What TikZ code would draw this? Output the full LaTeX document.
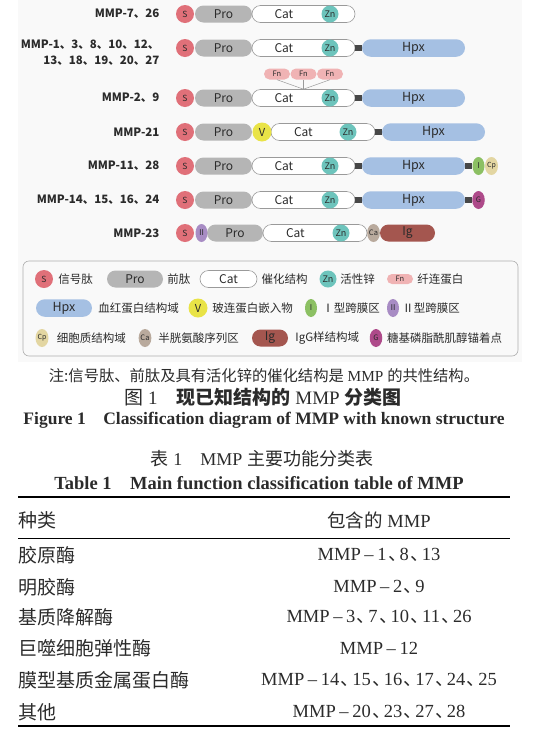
\documentclass[tikz,border=0pt]{standalone}
\usepackage{fontspec}
\setmainfont{Liberation Serif}
\newfontfamily\cjk{Noto Sans CJK SC}
\usepackage{tikz}
\usetikzlibrary{positioning, shapes.geometric, shapes.misc}
\definecolor{mmpBg}{HTML}{F9F9F9}
\definecolor{mmpSig}{HTML}{E07079}
\definecolor{mmpPro}{HTML}{B5B5B5}
\definecolor{mmpLine}{HTML}{9A9A9A}
\definecolor{mmpZn}{HTML}{6DC4BC}
\definecolor{mmpHpx}{HTML}{A5C0E3}
\definecolor{mmpFn}{HTML}{F0B3B4}
\definecolor{mmpV}{HTML}{E9E347}
\definecolor{mmpTmI}{HTML}{8CC063}
\definecolor{mmpCp}{HTML}{E3D6A2}
\definecolor{mmpGpi}{HTML}{AE4A8A}
\definecolor{mmpTmII}{HTML}{A88CC4}
\definecolor{mmpCa}{HTML}{B9AA9D}
\definecolor{mmpIg}{HTML}{A4564F}
\definecolor{mmpLink}{HTML}{474747}
\definecolor{mmpInk}{HTML}{2B2B2B}
\newcommand{\fs}[1]{\fontsize{#1}{#1}\selectfont}
\newcommand{\dun}{\kern1.5pt{\cjk 、}\kern-7pt}

\begin{document}
\begin{tikzpicture}[x=1pt, y=-1pt, font=\cjk, text=mmpInk,
  pill/.style={rounded rectangle, inner sep=0pt, minimum height=17pt, font=\cjk\fs{12}},
  dot/.style={circle, inner sep=0pt, minimum size=18pt, font=\cjk\fs{8.5}},
  egg/.style={ellipse, inner sep=0pt, minimum width=12.5pt, minimum height=18pt, font=\cjk\fs{7.5}},
  catbox/.style={pill, draw=mmpLine, fill=white, line width=0.6pt, text width=58pt, align=left},
  znbox/.style={dot, fill=mmpZn, minimum size=17pt, font=\cjk\fs{9}},
  hpxbox/.style={pill, fill=mmpHpx, minimum height=17.5pt, font=\cjk\fs{12.5}},
  fnbox/.style={pill, fill=mmpFn, minimum width=26pt, minimum height=11pt, font=\cjk\fs{7.5}},
  link/.style={mmpLink, line width=6pt},
  fnline/.style={mmpLine, line width=0.5pt},
  rowlab/.style={anchor=east, align=right, font=\cjk\bfseries\fontsize{11.5}{16}\selectfont},
  legtxt/.style={inner sep=0pt, font=\cjk\fs{11.5}},
  captxt/.style={inner sep=0pt, font=\fs{15.3}},
  capen/.style={inner sep=0pt, font=\bfseries\fs{17.5}},
  tabzh/.style={anchor=west, inner sep=0pt, font=\cjk\fs{19}},
  tabmmp/.style={inner sep=0pt, font=\fs{18.5}}]
\useasboundingbox (0,0) rectangle (535,737);
\fill[mmpBg] (18,0) rectangle (522,362);

% ---- rows with S / Pro / Cat / Zn
\foreach \r/\y in {1/14, 2/48, 3/98, 5/166, 6/200} {
  \node[pill, fill=mmpPro, minimum width=57pt] (pro\r) at (223.5,\y) {Pro};
  \node[dot, fill=mmpSig] (s\r) at (185,\y) {S};
  \node[catbox, minimum width=103pt] (cat\r) at (303.5,\y) {Cat};
  \node[znbox] (zn\r) at (330,\y) {Zn};
}
\foreach \r/\y in {2/48, 3/98, 5/166, 6/200} {
  \node[hpxbox, minimum width=103pt] (hpx\r) at (413.5,\y) {Hpx};
  \draw[link] (cat\r.east) -- (hpx\r.west);
}
\node[rowlab] (lab1) at (163,14) {MMP-7、26};
\node[rowlab] (lab2) at (163,53) {MMP-1、3、8、10、12、\\13、18、19、20、27};
\node[rowlab] (lab3) at (163,98) {MMP-2、9};
\node[rowlab] (lab4) at (163,132) {MMP-21};
\node[rowlab] (lab5) at (163,166) {MMP-11、28};
\node[rowlab] (lab6) at (163,200) {MMP-14、15、16、24};
\node[rowlab] (lab7) at (163,233) {MMP-23};

% ---- fibronectin repeats
\foreach \i/\x in {1/277, 2/303.5, 3/330} {
  \node[fnbox] (fn\i) at (\x,74) {Fn};
  \draw[fnline] (fn\i.south) -- (cat3.north);
}

% ---- MMP-21
\node[pill, fill=mmpPro, minimum width=57pt] (pro4) at (223.5,132) {Pro};
\node[dot, fill=mmpSig] (s4) at (185,132) {S};
\node[catbox, minimum width=104pt] (cat4) at (323,132) {Cat};
\node[dot, fill=mmpV, minimum size=19pt, font=\cjk\fs{11}] (v4) at (262,132) {V};
\node[znbox] (zn4) at (348,132) {Zn};
\node[hpxbox, minimum width=103pt] (hpx4) at (433.5,132) {Hpx};
\draw[link] (cat4.east) -- (hpx4.west);

% ---- C-terminal ends
\node[egg, fill=mmpTmI, minimum width=12pt, font=\cjk\fs{8}] (tm5) at (478.5,166) {I};
\node[egg, fill=mmpCp, minimum width=13pt, font=\cjk\fs{7}] (cp5) at (491.5,166) {Cp};
\draw[link] (hpx5.east) -- (tm5.west);
\node[egg, fill=mmpGpi] (gpi6) at (478.5,200) {G};
\draw[link] (hpx6.east) -- (gpi6.west);

% ---- MMP-23
\node[pill, fill=mmpPro, minimum width=56pt] (pro7) at (235,233) {Pro};
\node[egg, fill=mmpTmII, minimum width=12pt, font=\cjk\fs{8}] (tm7) at (201.5,233) {Ⅱ};
\node[dot, fill=mmpSig] (s7) at (185,233) {S};
\node[catbox, minimum width=104pt] (cat7) at (315,233) {Cat};
\node[znbox] (zn7) at (341,233) {Zn};
\node[egg, fill=mmpCa] (ca7) at (373.5,233) {Ca};
\node[pill, fill=mmpIg, minimum width=55pt] (ig7) at (407.5,233) {Ig};

% ---- legend
\draw[mmpLine!80, line width=0.6pt, rounded corners=6pt] (23,261) rectangle (518,356);
\node[dot, fill=mmpSig] (lgS) at (44,279) {S};
\node[legtxt, right=5pt of lgS] (lgStxt) {信号肽};
\node[pill, fill=mmpPro, minimum width=56pt] (lgPro) at (135,279) {Pro};
\node[legtxt, right=4pt of lgPro] (lgProtxt) {前肽};
\node[pill, draw=mmpLine, fill=white, line width=0.6pt, minimum width=57pt] (lgCat) at (228.5,279) {Cat};
\node[legtxt, right=4pt of lgCat] (lgCattxt) {催化结构};
\node[znbox] (lgZn) at (328,279) {Zn};
\node[legtxt, right=3.5pt of lgZn] (lgZntxt) {活性锌};
\node[fnbox, minimum height=10pt] (lgFn) at (400,279) {Fn};
\node[legtxt, right=4pt of lgFn] (lgFntxt) {纤连蛋白};

\node[hpxbox, minimum width=56pt] (lgHpx) at (64,308) {Hpx};
\node[legtxt, right=6pt of lgHpx] (lgHpxtxt) {血红蛋白结构域};
\node[dot, fill=mmpV, minimum size=19pt, font=\cjk\fs{11}] (lgV) at (198,308) {V};
\node[legtxt, right=4.5pt of lgV] (lgVtxt) {玻连蛋白嵌入物};
\node[egg, fill=mmpTmI, minimum width=12pt, font=\cjk\fs{8}] (lgTmI) at (311,308) {I};
\node[legtxt, right=5pt of lgTmI] (lgTmItxt) {Ⅰ型跨膜区};
\node[egg, fill=mmpTmII, minimum width=12pt, font=\cjk\fs{8}] (lgTmII) at (393,308) {Ⅱ};
\node[legtxt, right=3pt of lgTmII] (lgTmIItxt) {Ⅱ型跨膜区};

\node[egg, fill=mmpCp, minimum width=13pt, font=\cjk\fs{7}] (lgCp) at (42,338) {Cp};
\node[legtxt, right=8pt of lgCp] (lgCptxt) {细胞质结构域};
\node[egg, fill=mmpCa] (lgCa) at (145,338) {Ca};
\node[legtxt, right=6.5pt of lgCa] (lgCatxt) {半胱氨酸序列区};
\node[pill, fill=mmpIg, minimum width=36pt] (lgIg) at (270,338) {Ig};
\node[legtxt, right=7pt of lgIg] (lgIgtxt) {IgG样结构域};
\node[egg, fill=mmpGpi] (lgG) at (376,338) {G};
\node[legtxt, right=4.5pt of lgG] (lgGtxt) {糖基磷脂酰肌醇锚着点};

% ---- captions
\node[captxt] (note) at (264,376) {{\cjk 注:信号肽、前肽及具有活化锌的催化结构是} MMP {\cjk 的共性结构。}};
\node[captxt, font=\fs{19}] (figzh) at (263,397) {{\cjk 图} 1\quad{\cjk\bfseries 现已知结构的} MMP {\cjk\bfseries 分类图}};
\node[capen] (figen) at (264,420) {Figure 1\quad Classification diagram of MMP with known structure};
\node[captxt, font=\fs{18}] (tabzh) at (262,459) {{\cjk 表} 1\quad MMP {\cjk 主要功能分类表}};
\node[capen, font=\bfseries\fs{18.5}] (taben) at (259,483) {Table 1\quad Main function classification table of MMP};

% ---- table
\draw[line width=1.6pt] (18,497) -- (510,497);
\node[tabzh] (hdkind) at (18,520) {种类};
\node[tabmmp] (hdmmp) at (379,520) {{\cjk 包含的} MMP};
\draw[line width=0.7pt] (18,538) -- (510,538);
\foreach \y/\kind/\members [count=\n] in {
    555/胶原酶/{1\dun8\dun13},
    587/明胶酶/{2\dun9},
    617/基质降解酶/{3\dun7\dun10\dun11\dun26},
    648/巨噬细胞弹性酶/{12},
    680/膜型基质金属蛋白酶/{14\dun15\dun16\dun17\dun24\dun25},
    712/其他/{20\dun23\dun27\dun28}} {
  \node[tabzh] (kind\n) at (18,\y) {\kind};
  \node[tabmmp] (mmp\n) at (379,\y) {MMP \kern-1pt–\kern-1pt{} \members};
}
\draw[line width=1.6pt] (18,726) -- (510,726);
\end{tikzpicture}
\end{document}
